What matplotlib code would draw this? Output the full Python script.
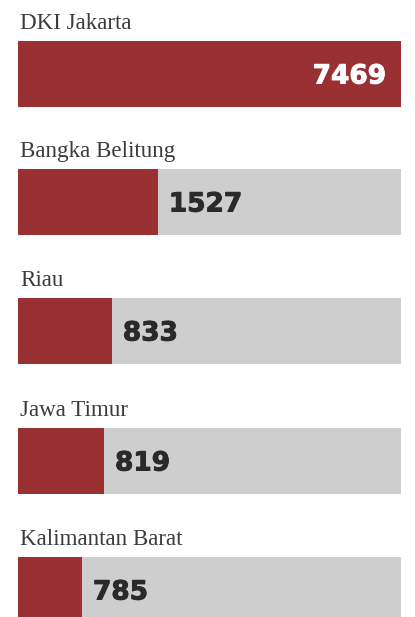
import matplotlib.pyplot as plt
import matplotlib.patheffects as pe

provinces = ["DKI Jakarta", "Bangka Belitung", "Riau", "Jawa Timur", "Kalimantan Barat"]
values = [7469, 1527, 833, 819, 785]
# share of the grey track filled in red, as drawn in the picture
fill_share = [1.0, 0.365, 0.245, 0.2245, 0.167]

W, H = 415, 617
red = "#993133"
grey = "#cecece"

fig = plt.figure(figsize=(W / 100, H / 100), dpi=100, facecolor="white")
track_left, track_w = 18, 383
ax = fig.add_axes([track_left / W, 0, track_w / W, 1])
ax.set_xlim(0, 1)
ax.set_ylim(H, 0)
ax.axis("off")

bar_h = 66
first_top, step = 41, 129
px = 1 / track_w  # one pixel in x data units

for i, (name, val, share) in enumerate(zip(provinces, values, fill_share)):
    top = first_top + step * i - (1 if i in (1, 2) else 0)
    mid = top + bar_h / 2
    ax.barh(mid, 1, height=bar_h, color=grey, linewidth=0)
    ax.barh(mid, share, height=bar_h, color=red, linewidth=0)
    ax.text(2 * px, top - 12, name, fontsize=16.6, family="Liberation Serif",
            color="#3c3c3c", va="baseline", ha="left")
    col = "white" if share >= 0.99 else "#2a2a2a"
    kw = dict(fontsize=19, weight="bold", family="DejaVu Sans", color=col,
              va="baseline",
              path_effects=[pe.withStroke(linewidth=0.7, foreground=col)])
    if share >= 0.99:
        ax.text(1 - 15 * px, mid + 9.5, str(val), ha="right", **kw)
    else:
        ax.text(share + 11 * px, mid + 9.5, str(val), ha="left", **kw)

fig.savefig("out.png", dpi=100, facecolor="white")
